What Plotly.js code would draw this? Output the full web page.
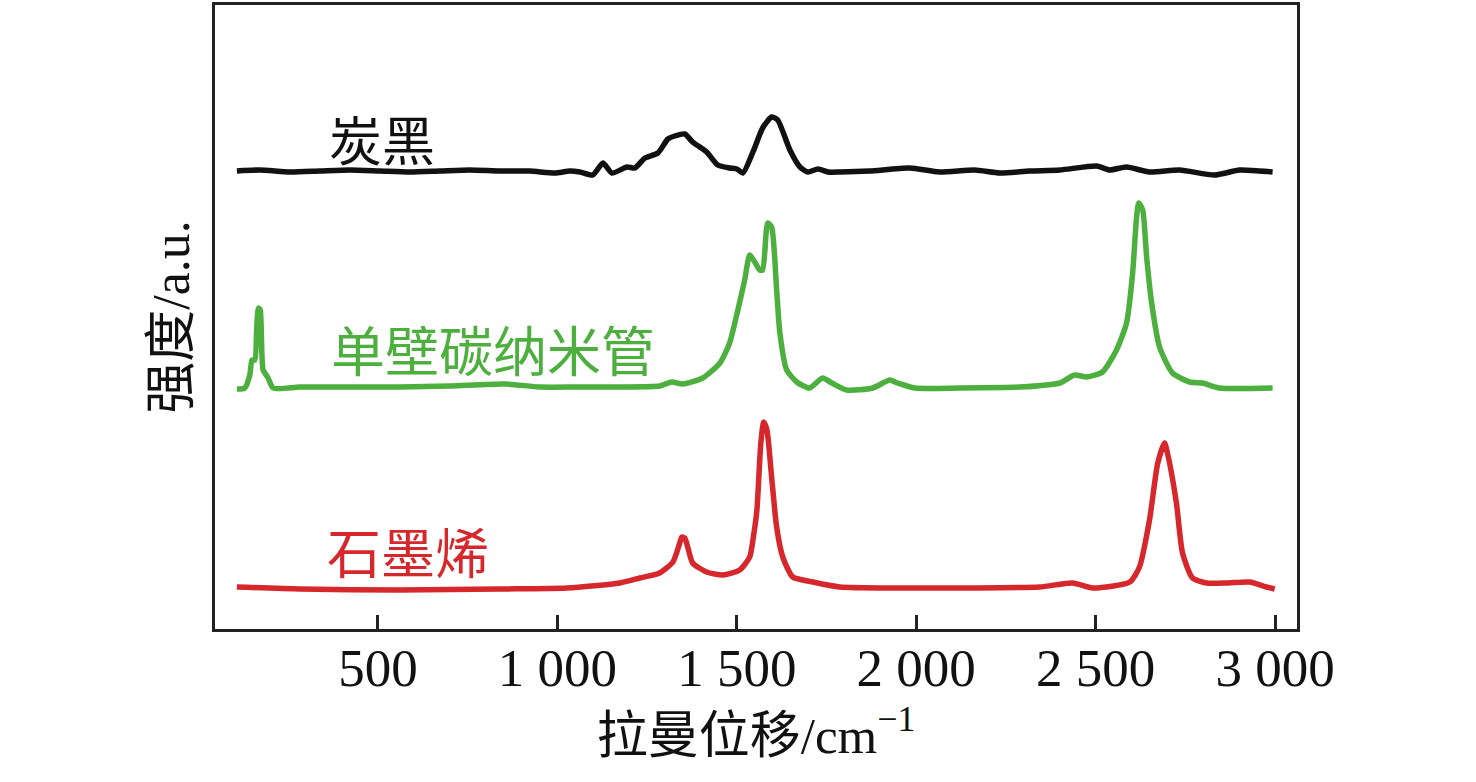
<!DOCTYPE html>
<html>
<head>
<meta charset="utf-8">
<script src="https://cdn.plot.ly/plotly-3.0.1.min.js"></script>
<style>html,body{margin:0;padding:0;background:#fff;}#chart{width:1476px;height:782px;}</style>
</head>
<body>
<div id="chart"></div>
<script>
// Raman shift (cm^-1) and intensity (a.u., stacked)
const cbX = [107,171,255,338,422,506,589,673,756,840,923,993,1035,1063,1099,1127,1152,1194,1216,1244,1280,1308,1327,1355,1377,1416,1447,1480,1500,1517,1545,1572,1597,1614,1648,1676,1698,1726,1754,1787,1870,1982,2065,2163,2233,2316,2400,2503,2539,2586,2650,2734,2831,2901,2957,2993];
const cbY = [458,459,457,458,459,458,457,458,459,458,458,456,458,457,454,466,456,462,461,471,476,490,493,495,487,477,464,461,460,456,477,501,512,509,479,462,457,460,457,457,458,461,457,459,456,458,459,463,459,462,457,459,454,459,458,457];

const swX = [107,129,143,149,157,162,167,172,180,194,208,283,422,561,701,854,951,1063,1174,1285,1319,1350,1405,1453,1480,1503,1522,1536,1550,1564,1572,1586,1597,1611,1620,1639,1667,1703,1739,1765,1806,1879,1926,1948,1996,2121,2288,2400,2441,2475,2519,2558,2586,2603,2614,2620,2631,2642,2656,2678,2714,2762,2798,2845,2993];
const swY = [240,241,254,269,269,299,321,319,259,251,241,242,242,242,243,245,242,242,242,243,247,245,251,266,286,319,349,374,367,359,359,406,402,339,296,259,247,241,251,246,239,241,249,246,241,241,242,246,254,252,257,279,306,356,412,426,419,372,326,282,256,247,246,241,241];

const grX = [107,283,561,840,1026,1174,1230,1285,1322,1341,1347,1355,1364,1377,1416,1461,1508,1536,1547,1556,1567,1575,1584,1597,1611,1628,1656,1712,1787,1954,2149,2344,2436,2492,2595,2622,2650,2673,2692,2700,2725,2742,2770,2809,2865,2929,2976,2999];
const grY = [42,40,39,40,41,46,51,56,67,86,92,91,81,66,57,54,59,72,94,119,186,207,199,152,102,72,52,47,42,41,41,42,46,41,47,62,109,166,186,176,126,76,51,46,46,47,42,40];

const seriesNames = ['炭黑','单壁碳纳米管','石墨烯'];
const colors = ['#111111','#4caf3e','#d6282c'];
const tickVals = [500,1000,1500,2000,2500,3000];
const tickText = ['500','1 000','1 500','2 000','2 500','3 000'];

const FONT = '"Liberation Serif", "Times New Roman", "Noto Sans CJK SC", serif';

const traces = [[cbX,cbY],[swX,swY],[grX,grY]].map((d,i)=>({
  x:d[0], y:d[1], type:'scatter', mode:'lines', name:seriesNames[i],
  line:{color:colors[i], width:5.5, shape:'spline', smoothing:0.6},
  hoverinfo:'skip'
}));

const labelPos = [[510,491],[820,281],[584,79]];
const labelSizes = [53,54,54];
const annotations = seriesNames.map((t,i)=>({
  x:labelPos[i][0], y:labelPos[i][1], xref:'x', yref:'y', text:t, showarrow:false,
  font:{family:'"Noto Sans CJK SC", sans-serif', size:labelSizes[i], color:colors[i]},
  xanchor:'center', yanchor:'middle'
}));

const layout = {
  width:1476, height:782,
  margin:{l:215, r:179, t:5, b:153},
  paper_bgcolor:'#fff', plot_bgcolor:'#fff',
  showlegend:false,
  font:{family:FONT, color:'#111'},
  xaxis:{
    range:[46,3061], tickvals:tickVals, ticktext:tickText,
    ticks:'inside', ticklen:14, tickwidth:3, tickcolor:'#222',
    showline:true, linewidth:3, linecolor:'#222', mirror:true,
    showgrid:false, zeroline:false, ticklabelstandoff:-10,
    tickfont:{family:FONT, size:53, color:'#111'},
    title:{text:'拉曼位移/cm<sup>−1</sup>', font:{family:FONT, size:51, color:'#111'}, standoff:22}
  },
  yaxis:{
    range:[0,624], showticklabels:false, ticks:'',
    showline:true, linewidth:3, linecolor:'#222', mirror:true,
    showgrid:false, zeroline:false,
    title:{text:'强度/a.u.', font:{family:FONT, size:52, color:'#111'}, standoff:6}
  },
  annotations:annotations
};

Plotly.newPlot('chart', traces, layout, {displayModeBar:false, staticPlot:true});
</script>
</body>
</html>
